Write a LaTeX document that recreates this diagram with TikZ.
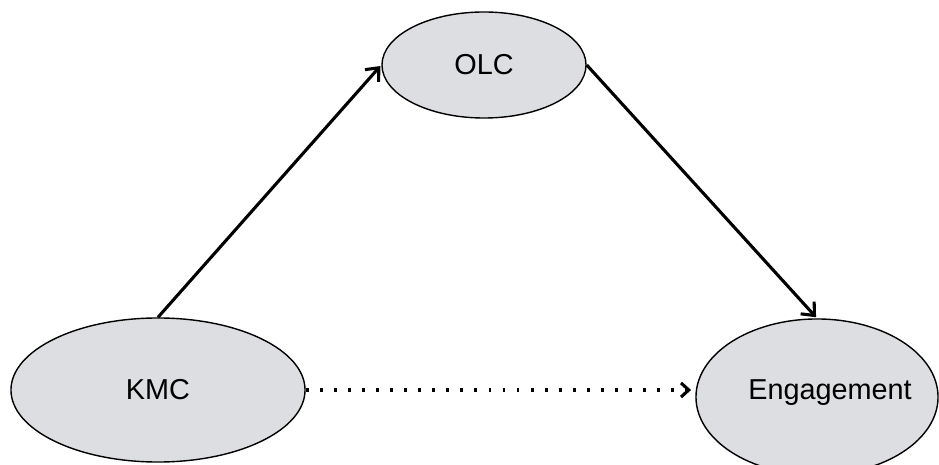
\documentclass[tikz,border=0pt]{standalone}
\usepackage{fontspec}
\setmainfont{Liberation Sans}
\usetikzlibrary{shapes.geometric,arrows.meta}
\definecolor{bubblegray}{RGB}{221,222,225}

\begin{document}
\begin{tikzpicture}[x=0.025cm, y=-0.025cm,
    bubble/.style={ellipse, draw, line width=1pt, fill=bubblegray, inner sep=0pt, font=\fontsize{20.5}{24}\selectfont},
    link/.style={line width=2.2pt, -{Straight Barb[length=7.5pt, width=13pt, line width=2.2pt]}, shorten >=1pt},
    dotlink/.style={line width=2.2pt, dash pattern=on 2pt off 8pt, -{Straight Barb[length=5.5pt, width=10pt, line width=2.2pt]}, shorten >=3pt}]
    \useasboundingbox (0,0) rectangle (939,465);

    % mediator on top
    \node[bubble, minimum width=5.1cm, minimum height=2.65cm] (olc) at (484,65) {OLC};

    % predictor, lower left
    \node[bubble, minimum width=7.35cm, minimum height=3.6cm] (kmc) at (158,390) {KMC};

    % outcome, lower right
    \node[bubble, minimum width=6.05cm, minimum height=3.9cm] (eng) at (817,397) {};
    \node[font=\fontsize{20.5}{24}\selectfont] (englabel) at (830,393) {Engagement};

    \draw[link] (kmc.north) -- (olc.west);
    \draw[link] (olc.east) -- (eng.north);
    \draw[dotlink] (kmc.east) -- (eng.west |- kmc.east);

\end{tikzpicture}
\end{document}
